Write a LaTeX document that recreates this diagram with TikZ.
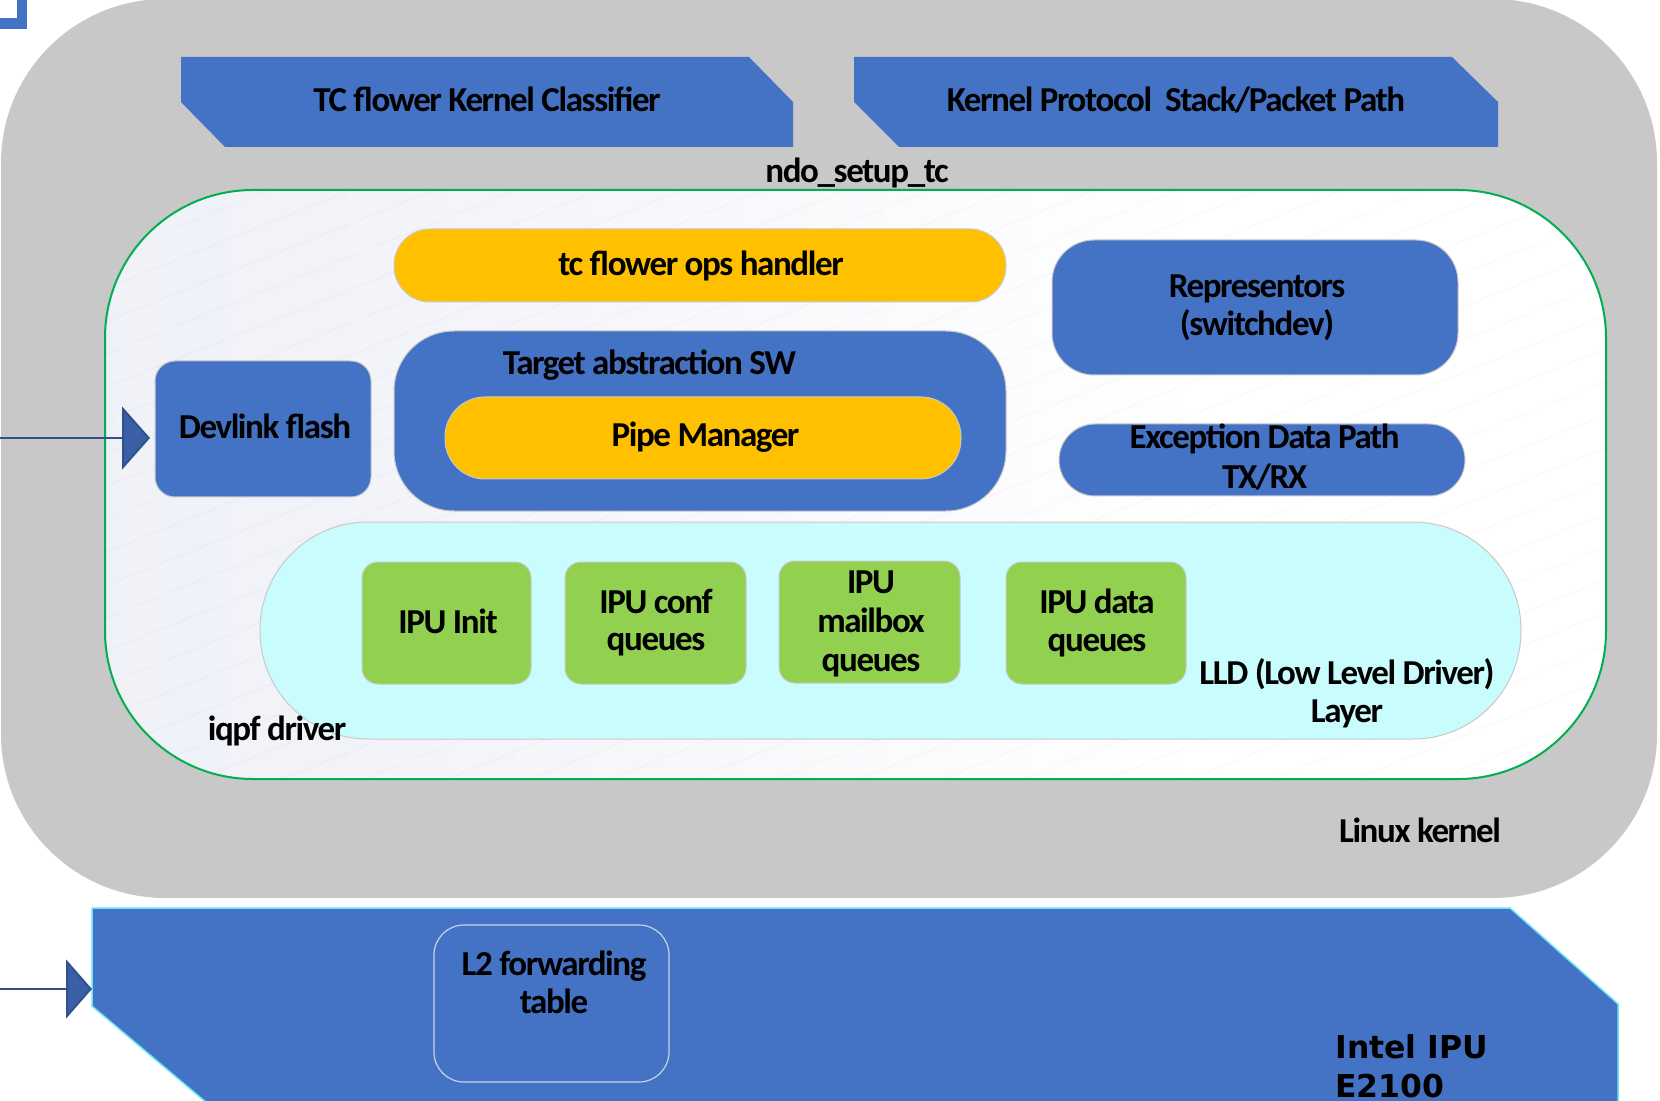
\documentclass[tikz,border=0pt]{standalone}
\usepackage{fontspec}
\usetikzlibrary{arrows.meta,fit}

\newfontfamily\lblfamily[LetterSpace=-4]{Carlito}
\newfontfamily\chipfamily{DejaVu Sans}

\definecolor{kgray}{HTML}{C8C8C8}
\definecolor{ipublue}{HTML}{4472C4}
\definecolor{opsyellow}{HTML}{FFC000}
\definecolor{lldcyan}{HTML}{C9FCFC}
\definecolor{qgreen}{HTML}{92D050}
\definecolor{drvgreen}{HTML}{00B050}
\definecolor{lineblue}{HTML}{2F528F}
\definecolor{tipblue}{HTML}{3A5FA6}
\definecolor{edgegray}{HTML}{C9C9C9}
\definecolor{cyanedge}{HTML}{66E6F5}
\definecolor{l2edge}{HTML}{C9D3E6}
\definecolor{lavender}{HTML}{E8EBF5}

\pgfdeclarehorizontalshading{drvshade}{100bp}{color(0bp)=(lavender); color(35bp)=(lavender!55!white); color(62bp)=(white); color(100bp)=(white)}

\begin{document}
\begin{tikzpicture}[x=0.5pt,y=-0.5pt,
  lbl/.style={font=\lblfamily\bfseries\fontsize{17.5pt}{18.5pt}\selectfont, text=black, inner sep=0pt, anchor=base},
  chiplbl/.style={font=\chipfamily\bfseries\fontsize{15.75pt}{19.5pt}\selectfont, text=black, inner sep=0pt, anchor=base west},
  region/.style={inner sep=0pt, outer sep=0pt},
  box/.style={region, draw=edgegray, line width=0.5pt},
  bluebox/.style={box, fill=ipublue},
  yellowbox/.style={box, fill=opsyellow},
  greenbox/.style={box, fill=qgreen, rounded corners=8pt},
  feed/.style={draw=lineblue, line width=1pt},
]
\useasboundingbox (0,0) rectangle (1660,1101);
\fill[white] (0,0) rectangle (1660,1101);

% corner of a frame at the top left
\draw[ipublue, line width=5.25pt] (-60,-60) rectangle (22.2,23.7);

% Linux kernel container
\node[region, fill=kgray, rounded corners=82pt, fit={(1,-1) (1657,898)}] (linux) {};
\node[lbl] (linuxlbl) at (1420,842) {Linux kernel};

% kernel side components
\fill[ipublue] (181,57) -- (749,57) -- (793,102) -- (793,147) -- (225,147) -- (181,102) -- cycle;
\node[lbl] (tcflower) at (487,111.7) {TC flower Kernel Classifier};
\fill[ipublue] (854,57) -- (1452,57) -- (1498,102) -- (1498,147) -- (899,147) -- (854,102) -- cycle;
\node[lbl] (kstack) at (1176,111.7) {Kernel Protocol\ \ Stack/Packet Path};
\node[lbl] (ndo) at (857,183) {ndo\_setup\_tc};

% iqpf driver
\node[region, shade, shading=drvshade, rounded corners=74pt, fit={(105,190) (1606,779)}] (iqpf) {};
\begin{scope}
  \clip[rounded corners=74pt] (105,190) rectangle (1606,779);
  \foreach \k in {0,...,40}
    \draw[black, opacity=0.03, line width=0.4pt] (104,190+\k*33) -- (1610,190+\k*33-602);
\end{scope}
\draw[drvgreen, line width=1pt, rounded corners=74pt] (105,190) rectangle (1606,779);

\node[yellowbox, rounded corners=18pt, fit={(394,229) (1006,302)}] (tcops) {};
\node[lbl] (tcopslbl) at (701,276) {tc flower ops handler};

\node[bluebox, rounded corners=21pt, fit={(1052,240) (1458,375)}] (rep) {};
\node[lbl] (rep1) at (1257,298) {Representors};
\node[lbl] (rep2) at (1257,336) {(switchdev)};

\node[bluebox, rounded corners=30pt, fit={(394,331) (1006,511)}] (target) {};
\node[lbl] (targetlbl) at (649.5,375) {Target abstraction SW};
\node[yellowbox, rounded corners=20pt, fit={(445,397) (961,479)}] (pipe) {};
\node[lbl] (pipelbl) at (705.5,447) {Pipe Manager};

\node[bluebox, rounded corners=10pt, fit={(155,361) (371,497)}] (devlink) {};
\node[lbl] (devlbl) at (265,439) {Devlink flash};

\node[bluebox, rounded corners=18pt, fit={(1059,424) (1465,496)}] (exc) {};
\node[lbl] (exc1) at (1264.6,449) {Exception Data Path};
\node[lbl] (exc2) at (1264.6,488.5) {TX/RX};

% low level driver layer
\node[box, fill=lldcyan, rounded corners=54pt, fit={(260,522) (1521,739)}] (lld) {};
\node[lbl] (lld1) at (1347,684) {LLD (Low Level Driver)};
\node[lbl] (lld2) at (1347,722) {Layer};
\node[lbl] (iqpflbl) at (277,740) {iqpf driver};

\node[greenbox, fit={(362,562) (531,684)}] (init) {};
\node[lbl] (initlbl) at (448,633.5) {IPU Init};
\node[greenbox, fit={(565,562) (746,684)}] (conf) {};
\node[lbl] (conf1) at (656,613.3) {IPU conf};
\node[lbl] (conf2) at (656,650) {queues};
\node[greenbox, fit={(779,561) (960,683)}] (mbox) {};
\node[lbl] (mb1) at (871,593) {IPU};
\node[lbl] (mb2) at (871,632) {mailbox};
\node[lbl] (mb3) at (871,671.5) {queues};
\node[greenbox, fit={(1006,562) (1186,684)}] (dataq) {};
\node[lbl] (data1) at (1097,613) {IPU data};
\node[lbl] (data2) at (1097,651) {queues};

% Intel IPU hardware
\draw[fill=ipublue, draw=cyanedge, line width=0.75pt]
  (92,908) -- (1510,908) -- (1618,1004) -- (1618,1130) -- (239,1130) -- (92,1006) -- cycle;
\coordinate (ipuport) at (92,989);
\node[chiplbl] (ipu1) at (1335,1058) {Intel IPU};
\node[chiplbl] (ipu2) at (1335,1097) {E2100};

\node[region, draw=l2edge, line width=0.6pt, rounded corners=15pt, fit={(434,925) (669,1082)}] (l2) {};
\node[lbl] (l2a) at (554,975) {L2 forwarding};
\node[lbl] (l2b) at (554,1013.5) {table};

% incoming connectors
\coordinate (in1) at (0,438);
\draw[feed, -{Triangle[length=14pt,width=31.5pt,fill=tipblue]}, shorten >=2.5pt] (in1) -- (in1 -| devlink.west);
\coordinate (in2) at (0,989);
\draw[feed, -{Triangle[length=13pt,width=29.5pt,fill=tipblue]}] (in2) -- (ipuport);
\end{tikzpicture}
\end{document}
